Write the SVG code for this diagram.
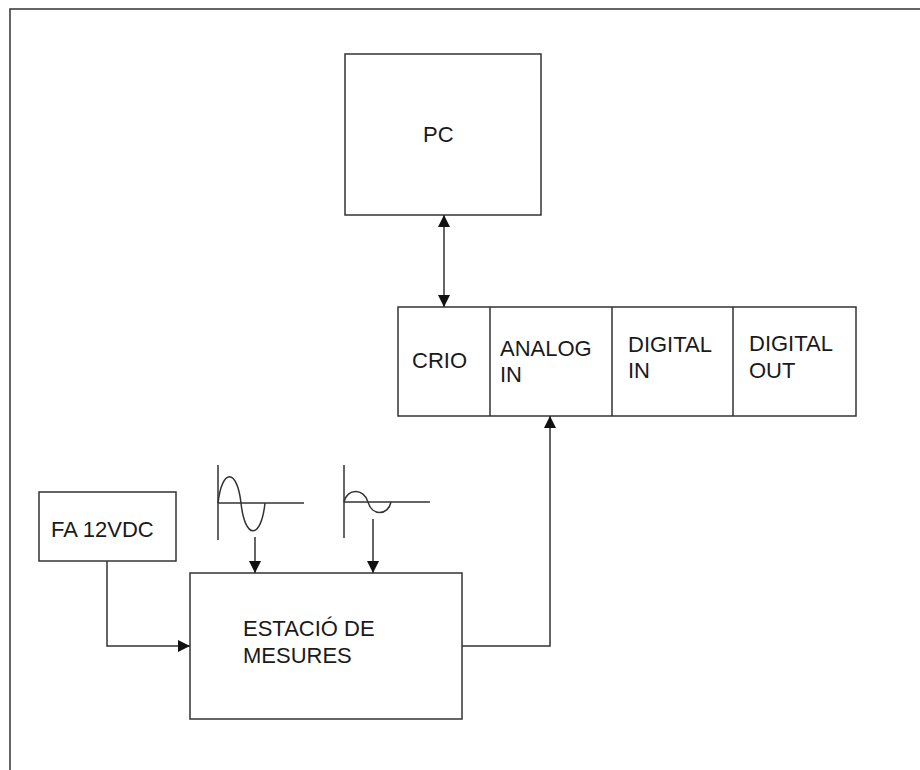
<svg xmlns="http://www.w3.org/2000/svg" width="920" height="770" viewBox="0 0 920 770">
<style>
.box{fill:#fff;stroke:#333;stroke-width:1.5}
.ln{fill:none;stroke:#333;stroke-width:1.5}
.t{font-family:"Liberation Sans",Arial,sans-serif;font-size:22px;fill:#1a1a1a}
</style>
<defs>
<marker id="ah" viewBox="0 0 12 12" refX="12" refY="6" markerWidth="12" markerHeight="12" markerUnits="userSpaceOnUse" orient="auto-start-reverse">
<path d="M0,0 L12,6 L0,12 z" fill="#111"/>
</marker>
</defs>
<rect width="920" height="770" fill="#fff"/>
<path class="ln" d="M10,770 V9 H920"/>
<g id="pc"><rect class="box" x="345" y="54" width="196" height="161"/><text class="t" x="423" y="142">PC</text></g>
<g id="crio">
<rect class="box" x="398" y="307" width="458" height="109"/>
<path class="ln" d="M490,307 V416 M612,307 V416 M733,307 V416"/>
<text class="t" x="412" y="368">CRIO</text>
<text class="t" x="500" y="356">ANALOG</text><text class="t" x="500" y="382">IN</text>
<text class="t" x="628" y="352">DIGITAL</text><text class="t" x="628" y="378">IN</text>
<text class="t" x="749" y="351">DIGITAL</text><text class="t" x="749" y="378">OUT</text>
</g>
<g id="fa"><rect class="box" x="39" y="492" width="137" height="69"/><text class="t" x="51" y="537">FA 12VDC</text></g>
<g id="estacio"><rect class="box" x="190" y="573" width="272" height="146"/><text class="t" x="243" y="636">ESTACIÓ DE</text><text class="t" x="243" y="663">MESURES</text></g>
<g id="wave1" class="ln"><path d="M218,465 V540 M218,503 H304"/><path d="M218,503 C222,468 237,468 241,503 C245,540 261,540 265,503"/></g>
<g id="wave2" class="ln"><path d="M344,465 V538 M344,502 H430"/><path d="M344,502 C347,488 364,488 368,502 C372,516 388,516 391,502"/></g>
<g id="connectors" class="ln">
<path d="M444,215 V307" marker-start="url(#ah)" marker-end="url(#ah)"/>
<path d="M107,561 V646 H190" marker-end="url(#ah)"/>
<path d="M462,646 H550 V416" marker-end="url(#ah)"/>
<path d="M255,537 V573" marker-end="url(#ah)"/>
<path d="M373,519 V573" marker-end="url(#ah)"/>
</g>
</svg>
